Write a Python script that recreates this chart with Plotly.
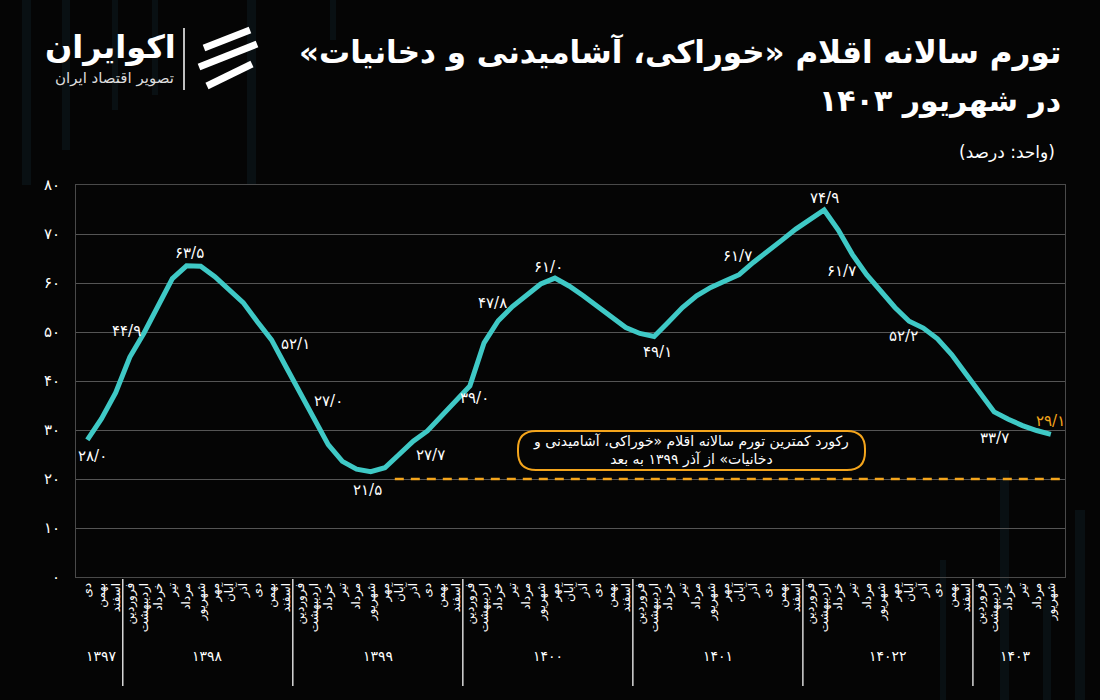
import plotly.graph_objects as go

# ---------------- data ----------------
year_names = ["۱۳۹۷", "۱۳۹۸", "۱۳۹۹", "۱۴۰۰", "۱۴۰۱", "۱۴۰۲۲", "۱۴۰۳"]
year_counts = [3, 12, 12, 12, 12, 12, 6]
month_names = ["فروردین", "اردیبهشت", "خرداد", "تیر", "مرداد", "شهریور",
               "مهر", "آبان", "آذر", "دی", "بهمن", "اسفند"]
first_month = [9, 0, 0, 0, 0, 0, 0]  # index of first month shown in each year

values = [
    28.0, 32.3, 37.6,
    44.9, 49.8, 55.3, 60.9, 63.5, 63.4, 61.3, 58.6, 56.0, 52.1, 48.4, 43.0,
    37.6, 32.3, 27.0, 23.6, 22.0, 21.5, 22.3, 25.0, 27.7, 29.8, 32.8, 35.8,
    39.0, 47.8, 52.3, 55.2, 57.5, 59.8, 61.0, 59.4, 57.4, 55.3, 53.0, 50.9,
    49.7, 49.1, 52.0, 55.0, 57.4, 59.1, 60.4, 61.7, 64.2, 66.6, 68.7, 71.0,
    73.0, 74.9, 70.8, 65.8, 61.7, 58.4, 55.0, 52.2, 50.8, 48.6, 45.4, 41.5,
    37.4, 33.7, 32.2, 30.9, 29.9, 29.1,
]

# labelled points: month index, label shift x, label shift y (pixels)
label_idx = [0, 3, 7, 12, 17, 20, 23, 27, 28, 33, 40, 46, 52, 55, 58, 64, 68]
label_dx = [5, -3, 3, 38, 0, -3, 17, 5, 8, -6, 3, -2, 0, -25, -6, 0, 0]
label_dy = [-16, 26, 13, -22, 44, -18, -14, -12, 40, 11, -16, 19, 12, 4, -15, -26, 13]

reference_level = 20
reference_start = 22

y_ticks = [0, 10, 20, 30, 40, 50, 60, 70, 80]

RLM = "\u200f"
title_line1 = "تورم سالانه اقلام «خوراکی، آشامیدنی و دخانیات»"
title_line2 = "در شهریور ۱۴۰۳"
unit_text = "(واحد: درصد)"
note_line1 = "رکورد کمترین تورم سالانه اقلام «خوراکی، آشامیدنی و"
note_line2 = "دخانیات» از آذر ۱۳۹۹ به بعد"
logo_name = "اکوایران"
logo_sub = "تصویر اقتصاد ایران"

# ---------------- helpers ----------------
PD = str.maketrans("0123456789.", "۰۱۲۳۴۵۶۷۸۹/")


def fa(v, dec=1):
    return (f"{v:.{dec}f}").translate(PD)


def rtl(s):
    return RLM + s + RLM


months = []
year_start = []
for name, cnt, fm in zip(year_names, year_counts, first_month):
    year_start.append(len(months))
    for k in range(cnt):
        months.append(month_names[(fm + k) % 12])
xs = list(range(len(months)))

FONT = "DejaVu Sans"
CYAN = "#3fc9c6"
ORANGE = "#f4a51c"
BG = "#050505"

# plot-area geometry (pixels) used for paper-coordinate decorations
L, R, T, B = 76, 1065, 185, 577
W, H = R - L, B - T


def px(xp):
    return (xp - L) / W


def py(yp):
    return (B - yp) / H


fig = go.Figure()
fig.add_trace(go.Scatter(
    x=xs, y=values, mode="lines",
    line=dict(color=CYAN, width=5), hoverinfo="skip", showlegend=False,
))

annotations = []
for n, (i, dx, dy) in enumerate(zip(label_idx, label_dx, label_dy)):
    last = (n == len(label_idx) - 1)
    annotations.append(dict(
        x=xs[i], y=values[i], xref="x", yref="y", text=fa(values[i]),
        showarrow=False, xshift=dx, yshift=dy,
        font=dict(family=FONT, size=15, color=ORANGE if last else "white"),
    ))

# year group labels
for name, s, cnt in zip(year_names, year_start, year_counts):
    annotations.append(dict(
        x=s + (cnt - 1) / 2, y=py(656), xref="x", yref="paper", yanchor="middle",
        text=name, showarrow=False, font=dict(family=FONT, size=14, color="white"),
    ))

# titles
annotations += [
    dict(x=px(1063), y=py(52), xref="paper", yref="paper", xanchor="right", yanchor="middle",
         text="<b>" + rtl(title_line1) + "</b>", showarrow=False,
         font=dict(family=FONT, size=31, color="white")),
    dict(x=px(1063), y=py(100), xref="paper", yref="paper", xanchor="right", yanchor="middle",
         text="<b>" + rtl(title_line2) + "</b>", showarrow=False,
         font=dict(family=FONT, size=30, color="white")),
    dict(x=px(1057), y=py(152), xref="paper", yref="paper", xanchor="right", yanchor="middle",
         text=rtl(unit_text), showarrow=False, font=dict(family=FONT, size=17, color="white")),
    dict(x=px(178), y=py(47), xref="paper", yref="paper", xanchor="right", yanchor="middle",
         text="<b>" + logo_name + "</b>", showarrow=False, font=dict(family=FONT, size=32, color="white")),
    dict(x=px(176), y=py(78), xref="paper", yref="paper", xanchor="right", yanchor="middle",
         text=logo_sub, showarrow=False, font=dict(family=FONT, size=15, color="#dddddd")),
    dict(x=px(691), y=py(450), xref="paper", yref="paper", xanchor="center", yanchor="middle",
         text=rtl(note_line1) + "<br>" + rtl(note_line2), showarrow=False, align="center",
         font=dict(family=FONT, size=14, color="white")),
]


# rounded rectangle for the note
def rrect(x0, y0, x1, y1, r):
    X = lambda v: f"{px(v):.5f}"
    Y = lambda v: f"{py(v):.5f}"
    return (f"M {X(x0 + r)},{Y(y0)} L {X(x1 - r)},{Y(y0)} Q {X(x1)},{Y(y0)} {X(x1)},{Y(y0 + r)} "
            f"L {X(x1)},{Y(y1 - r)} Q {X(x1)},{Y(y1)} {X(x1 - r)},{Y(y1)} "
            f"L {X(x0 + r)},{Y(y1)} Q {X(x0)},{Y(y1)} {X(x0)},{Y(y1 - r)} "
            f"L {X(x0)},{Y(y0 + r)} Q {X(x0)},{Y(y0)} {X(x0 + r)},{Y(y0)} Z")


shapes = []
# faint decorative background bars
for (bx, bw, by0, by1) in [(22, 9, 0, 185), (62, 8, 0, 150), (112, 6, 0, 110), (152, 6, 0, 95),
                           (247, 9, 0, 185), (330, 6, 0, 40), (940, 6, 560, 700),
                           (1000, 9, 470, 700), (1043, 8, 600, 700), (1075, 10, 510, 700)]:
    shapes.append(dict(type="rect", xref="paper", yref="paper", layer="below",
                       x0=px(bx), x1=px(bx + bw), y0=py(by1), y1=py(by0),
                       fillcolor="rgba(40,95,120,0.12)", line=dict(width=0)))

# dashed reference line
shapes.append(dict(type="line", xref="x", yref="y", x0=reference_start - 0.3, x1=69.0,
                   y0=reference_level, y1=reference_level,
                   line=dict(color=ORANGE, width=2.5, dash="9px,7px")))
# year dividers
for s in year_start[1:]:
    shapes.append(dict(type="line", xref="x", yref="paper", x0=s - 0.5, x1=s - 0.5,
                       y0=py(579), y1=py(686), line=dict(color="#d8d8d8", width=1.5)))
# note box
shapes.append(dict(type="path", xref="paper", yref="paper", path=rrect(518, 431, 865, 470, 18),
                   line=dict(color=ORANGE, width=2), fillcolor="rgba(0,0,0,0)"))
# logo separator
shapes.append(dict(type="line", xref="paper", yref="paper", x0=px(184), x1=px(184), y0=py(28), y1=py(90),
                   line=dict(color="white", width=1.5)))
# logo icon: three slanted strokes
for (ax, ay, bx2, by2) in [(204, 48, 250, 30), (199, 67, 257, 44), (207, 86, 252, 64)]:
    shapes.append(dict(type="line", xref="paper", yref="paper", x0=px(ax), y0=py(ay), x1=px(bx2), y1=py(by2),
                       line=dict(color="white", width=7)))

fig.update_layout(
    width=1100, height=700,
    paper_bgcolor=BG, plot_bgcolor=BG,
    margin=dict(l=L, r=1100 - R, t=T, b=700 - B),
    font=dict(family=FONT, color="white"),
    annotations=annotations, shapes=shapes,
    xaxis=dict(
        range=[-0.8, 69.0], tickvals=xs, ticktext=months,
        showgrid=False, showline=True, linecolor="#4a4a4a", linewidth=1, mirror=True,
        tickangle=-90, tickfont=dict(family=FONT, size=12, color="white"),
        ticks="", zeroline=False,
    ),
    yaxis=dict(
        range=[0, 80], tickvals=y_ticks, ticktext=[fa(v, 0) for v in y_ticks],
        showgrid=True, gridcolor="#555555", gridwidth=1,
        showline=True, linecolor="#4a4a4a", mirror=True, zeroline=False,
        tickfont=dict(family=FONT, size=15, color="white"), ticks="", ticklabelstandoff=12,
    ),
)

fig.write_html("out.html")
